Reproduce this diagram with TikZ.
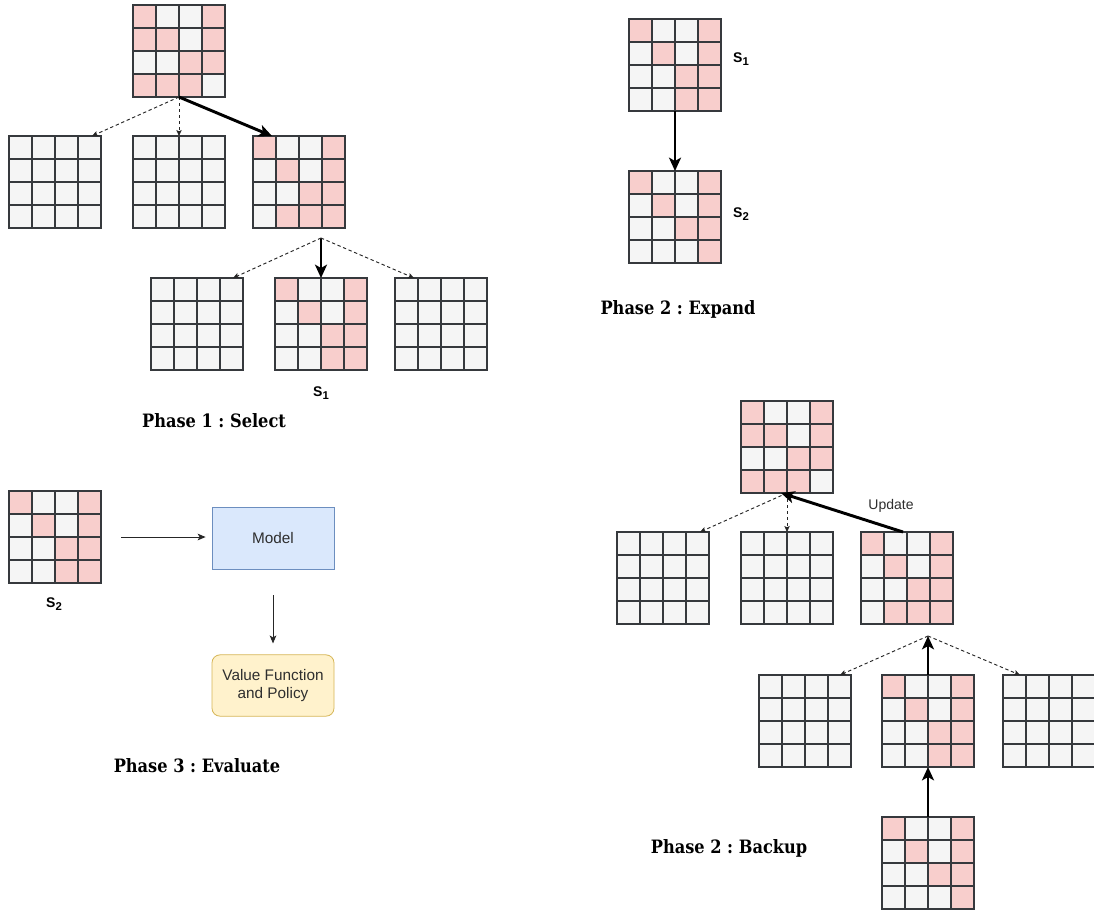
\documentclass[tikz,border=0pt]{standalone}
\usepackage{fontspec}
\setmainfont{Liberation Sans}
\newfontfamily\titlefont[FakeStretch=0.88]{DejaVu Serif}
\usetikzlibrary{arrows.meta,calc}
\definecolor{cellgray}{HTML}{F5F5F5}
\definecolor{cellpink}{HTML}{F8CECC}
\definecolor{gridline}{HTML}{36393D}
\definecolor{modelfill}{HTML}{DAE8FC}
\definecolor{modeldraw}{HTML}{6C8EBF}
\definecolor{valfill}{HTML}{FFF2CC}
\definecolor{valdraw}{HTML}{D6B656}
\tikzset{
  boardnode/.style={minimum width=69pt, minimum height=69pt, inner sep=0pt, outer sep=0pt},
  cell/.style={draw=gridline, line width=0.9pt},
  bigarrow/.style={line width=2.2pt, -{Stealth[length=10pt,width=9pt,inset=2.5pt]}},
  dasharrow/.style={draw=black!85, line width=0.7pt, dash pattern=on 2.5pt off 2pt, -{Stealth[length=4.5pt,width=4pt,inset=1pt]}},
  thinarrow/.style={draw=black!85, line width=0.7pt, -{Stealth[length=6pt,width=5pt,inset=1.5pt]}},
  phase/.style={font=\frenchspacing\titlefont\bfseries\fontsize{13.8}{15}\selectfont},
  slabel/.style={font=\bfseries\fontsize{10.5}{12}\selectfont},
  boxlabel/.style={font=\fontsize{11.5}{13.5}\selectfont, text=black!82, align=center},
}
\newcommand\sub[1]{\raisebox{-2.4pt}{\fontsize{8.5}{9}\selectfont #1}}
% #1 name, #2 left x, #3 top y (pixels), #4 macro holding 16 cell flags
\newcommand\board[4]{%
  \node[boardnode] (#1) at (#2+46,#3+46) {};
  \foreach \v [count=\i from 0] in #4 {
    \pgfmathtruncatemacro\cc{mod(\i,4)}
    \pgfmathtruncatemacro\rr{div(\i,4)}
    \ifnum\v=1\relax\def\fc{cellpink}\else\def\fc{cellgray}\fi
    \draw[cell, fill=\fc] (#2+\cc*23, #3+\rr*23) rectangle ++(23,23);
  }
}
\def\PA{1,0,0,1,1,1,0,1,0,0,1,1,1,1,1,0}
\def\PB{1,0,0,1,0,1,0,1,0,0,1,1,0,1,1,1}
\def\PC{1,0,0,1,0,1,0,1,0,0,1,1,0,0,1,1}
\def\PD{1,0,0,1,0,1,0,1,0,0,1,1,0,0,0,1}
\def\PE{0,0,0,0,0,0,0,0,0,0,0,0,0,0,0,0}
\begin{document}
\begin{tikzpicture}[x=0.75pt, y=-0.75pt]
\fill[white] (0,0) rectangle (1094,911);
\useasboundingbox (0,0) rectangle (1094,911);

% ---------- Phase 1 : Select ----------
\board{a}{133}{5}{\PA}
\board{b1}{9}{136}{\PE}
\board{b2}{133}{136}{\PE}
\board{b3}{253}{136}{\PB}
\board{c1}{151}{278}{\PE}
\board{c2}{275}{278}{\PC}
\board{c3}{395}{278}{\PE}
\draw[dasharrow] (a.south) -- ($(b1.north east)+(-9,0)$);
\draw[dasharrow] (a.south) -- (b2.north);
\draw[bigarrow] (a.south) -- ($(b3.north west)+(19,0)$);
\coordinate (j1) at ($(c2.north)+(0,-40)$);
\draw[bigarrow] (j1) -- (c2.north);
\draw[dasharrow] (j1) -- ($(c1.north east)+(-10,0)$);
\draw[dasharrow] (j1) -- ($(c3.north west)+(19,0)$);
\node[slabel] (ls1) at (321,393) {S\sub{1}};
\node[phase] (t1) at (214,421) {Phase 1 : Select};

% ---------- Phase 2 : Expand ----------
\board{s1g}{629}{19}{\PC}
\board{s2g}{629}{171}{\PD}
\node[slabel] (ls1e) at (741,59) {S\sub{1}};
\node[slabel] (ls2e) at (741,214) {S\sub{2}};
\draw[bigarrow] (s1g.south) -- (s2g.north);
\node[phase] (t2) at (678,309) {Phase 2 : Expand};

% ---------- Phase 3 : Evaluate ----------
\board{e}{9}{491}{\PC}
\node[slabel] (ls2v) at (54,604) {S\sub{2}};
\node[boxlabel, draw=modeldraw, fill=modelfill, line width=0.6pt,
      minimum width=91.5pt, minimum height=46.5pt] (model) at (273,538) {Model};
\node[boxlabel, draw=valdraw, fill=valfill, line width=0.6pt, rounded corners=6pt,
      minimum width=91.5pt, minimum height=46pt] (value) at (273,685.5) {Value Function\\and Policy};
\draw[thinarrow] ($(e.east)+(20,0)$) -- ($(model.west|-e.east)+(-6,0)$);
\draw[thinarrow] ($(model.south)+(0,26)$) -- ($(value.north)+(0,-11)$);
\node[phase] (t3) at (197,766) {Phase 3 : Evaluate};

% ---------- Phase 2 : Backup ----------
\board{r}{741}{401}{\PA}
\board{g1}{617}{532}{\PE}
\board{g2}{741}{532}{\PE}
\board{g3}{861}{532}{\PB}
\board{h1}{759}{675}{\PE}
\board{h2}{882}{675}{\PC}
\board{h3}{1003}{675}{\PE}
\board{k}{882}{817}{\PD}
\draw[dasharrow] (r.south) -- ($(g1.north east)+(-9,0)$);
\draw[dasharrow] (r.south) -- (g2.north);
\draw[bigarrow] ($(g3.north west)+(42,0)$) -- ($(r.south)+(-6,0)$);
\node[font=\fontsize{10.5}{12}\selectfont, text=black!82] (upd) at (891,506) {Update};
\coordinate (j2) at ($(h2.north)+(0,-39)$);
\draw[bigarrow] (h2.north) -- (j2);
\draw[dasharrow] (j2) -- ($(h1.north east)+(-11,0)$);
\draw[dasharrow] (j2) -- ($(h3.north west)+(17,0)$);
\draw[bigarrow] (k.north) -- (h2.south);
\node[phase] (t4) at (729,848) {Phase 2 : Backup};
\end{tikzpicture}
\end{document}
